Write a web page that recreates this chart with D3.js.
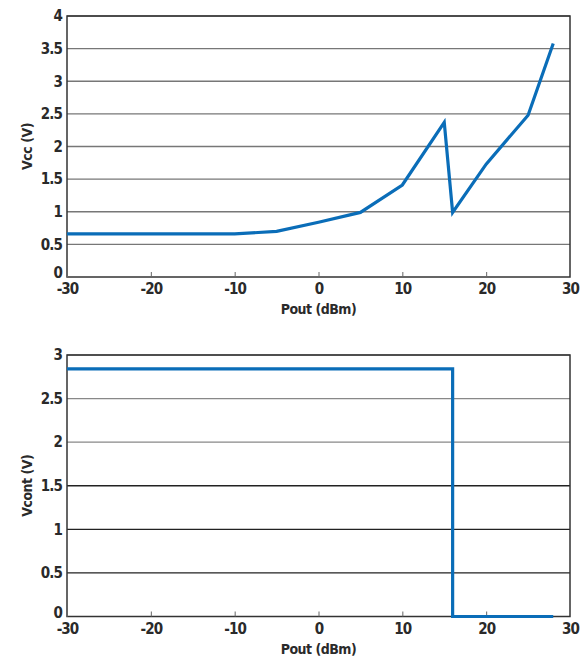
<!DOCTYPE html>
<html>
<head>
<meta charset="utf-8">
<script src="https://cdn.jsdelivr.net/npm/d3@7"></script>
<style>
body { margin: 0; background: #fff; }
svg text { font-family: "DejaVu Sans Condensed", "DejaVu Sans", sans-serif; font-stretch: condensed; font-weight: bold; fill: #2a2a2a; }
.tick text { font-size: 15px; letter-spacing: -0.9px; }
.label { font-size: 14px; letter-spacing: -0.5px; }
</style>
</head>
<body>
<div id="chart"></div>
<script>
// top chart: Vcc vs Pout
var vccPout = [-30, -10, -5, 0, 5, 10, 15, 16, 20, 25, 28];
var vccVals = [0.66, 0.66, 0.70, 0.84, 0.99, 1.41, 2.37, 0.99, 1.73, 2.48, 3.58];
var vccTicks = [0, 0.5, 1, 1.5, 2, 2.5, 3, 3.5, 4];

// bottom chart: Vcont vs Pout (step)
var vcontPout = [-30, 16, 16, 28];
var vcontVals = [2.84, 2.84, 0, 0];
var vcontTicks = [0, 0.5, 1, 1.5, 2, 2.5, 3];

var xTicks = [-30, -20, -10, 0, 10, 20, 30];

var svg = d3.select('#chart').append('svg')
    .attr('width', 583)
    .attr('height', 656);

function panel(opts) {
    var g = svg.append('g');
    var x = d3.scaleLinear().domain([-30, 30]).range([67, 570]);
    var y = d3.scaleLinear().domain([0, opts.ymax]).range([opts.bottom, opts.top]);

    // grid lines
    g.selectAll('.grid')
        .data(opts.yticks.slice(1))
        .enter()
        .append('line')
        .attr('x1', x(-30))
        .attr('x2', x(30))
        .attr('y1', d => y(d))
        .attr('y2', d => y(d))
        .attr('stroke', d => opts.gridColor(d))
        .attr('stroke-width', 1.3);

    // frame
    g.append('rect')
        .attr('x', x(-30))
        .attr('y', y(opts.ymax))
        .attr('width', x(30) - x(-30))
        .attr('height', y(0) - y(opts.ymax))
        .attr('fill', 'none')
        .attr('stroke', '#333')
        .attr('stroke-width', 1.5);

    // x axis, ticks pointing inward
    var xAxis = d3.axisBottom(x)
        .tickValues(xTicks)
        .tickSizeInner(-5)
        .tickSizeOuter(0)
        .tickFormat(d => String(d));

    var xg = g.append('g')
        .attr('transform', 'translate(0,' + y(0) + ')')
        .call(xAxis);
    xg.select('.domain').remove();
    xg.selectAll('.tick line').attr('stroke', '#666');
    xg.selectAll('.tick text').attr('dy', '1.0em').attr('y', 2);

    var yAxis = d3.axisLeft(y)
        .tickValues(opts.yticks)
        .tickSize(0)
        .tickPadding(5)
        .tickFormat(d => String(d));

    var yg = g.append('g')
        .attr('transform', 'translate(' + x(-30) + ',0)')
        .call(yAxis);
    yg.select('.domain').remove();
    yg.selectAll('.tick text').filter(d => d === 0).attr('y', -4);

    // data line
    var pts = opts.xs.map((d, i) => [d, opts.ys[i]]);
    g.append('path')
        .datum(pts)
        .attr('fill', 'none')
        .attr('stroke', '#0a6db8')
        .attr('stroke-width', 3.2)
        .attr('stroke-linejoin', 'miter')
        .attr('d', d3.line().x(d => x(d[0])).y(d => y(d[1])));

    g.append('text')
        .attr('class', 'label')
        .attr('x', (x(-30) + x(30)) / 2)
        .attr('y', y(0) + 37)
        .attr('text-anchor', 'middle')
        .text('Pout (dBm)');

    g.append('text')
        .attr('class', 'label')
        .attr('transform', 'translate(32,' + (opts.top + opts.bottom) / 2 + ') rotate(-90)')
        .attr('text-anchor', 'middle')
        .text(opts.ylabel);
}

panel({
    top: 16, bottom: 277, ymax: 4,
    yticks: vccTicks, xs: vccPout, ys: vccVals,
    ylabel: 'Vcc (V)',
    gridColor: d => '#777'
});

panel({
    top: 355, bottom: 616.5, ymax: 3,
    yticks: vcontTicks, xs: vcontPout, ys: vcontVals,
    ylabel: 'Vcont (V)',
    gridColor: d => d >= 2 ? '#888' : '#222'
});
</script>
</body>
</html>
